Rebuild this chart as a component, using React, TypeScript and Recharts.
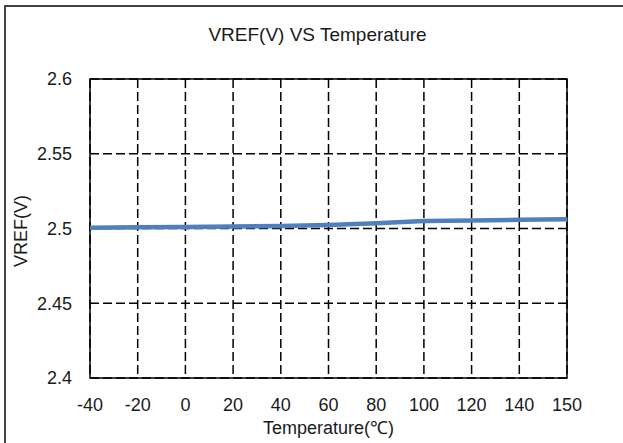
import React from 'react';
import { LineChart, Line, XAxis, YAxis, CartesianGrid, ReferenceArea } from 'recharts';

// temperature steps (category axis, evenly spaced like the original sheet chart)
const temps = [-40, -20, 0, 20, 40, 60, 80, 100, 120, 140, 150];
// VREF readings in volts
const vref = [2.5005, 2.5008, 2.501, 2.5013, 2.5017, 2.5023, 2.5035, 2.505, 2.5053, 2.5058, 2.5062];
const yTicks = [2.4, 2.45, 2.5, 2.55, 2.6];

const data = temps.map((t, i) => ({ t, v: vref[i] }));

const font = '"Liberation Sans", Arial, sans-serif';
const tickStyle = { fill: '#1a1a1a', fontSize: 18, fontFamily: font };

export default function App() {
  return (
    <div
      style={{
        position: 'fixed',
        left: 0,
        top: 0,
        width: 623,
        height: 443,
        overflow: 'hidden',
        background: '#fff',
        fontFamily: font,
      }}
    >
      <div
        style={{
          position: 'absolute',
          left: 4,
          top: 5,
          width: 640,
          height: 460,
          border: '2px solid #444',
        }}
      />
      <div
        style={{
          position: 'absolute',
          left: 0,
          width: 623,
          top: 24,
          textAlign: 'center',
          fontSize: 19,
          color: '#1a1a1a',
          paddingLeft: 6,
        }}
      >
        VREF(V) VS Temperature
      </div>
      <LineChart
        width={623}
        height={443}
        data={data}
        margin={{ top: 79, right: 56, bottom: 35, left: 0 }}
        style={{ position: 'absolute', left: 0, top: 0 }}
      >
        <CartesianGrid stroke="#000" strokeWidth={1.5} strokeDasharray="9 4" />
        <XAxis
          dataKey="t"
          type="category"
          height={30}
          axisLine={false}
          tickLine={false}
          tickMargin={14}
          tick={tickStyle}
          interval={0}
        />
        <YAxis
          type="number"
          domain={[2.4, 2.6]}
          ticks={yTicks}
          width={90}
          axisLine={false}
          tickLine={false}
          tickMargin={12}
          tick={tickStyle}
        />
        <Line
          type="linear"
          dataKey="v"
          stroke="#4f7fbd"
          strokeWidth={4.5}
          dot={false}
          isAnimationActive={false}
        />
        <ReferenceArea
          x1={-40}
          x2={150}
          y1={2.4}
          y2={2.6}
          fill="none"
          fillOpacity={0}
          stroke="#000"
          strokeWidth={1.5}
          ifOverflow="visible"
        />
      </LineChart>
      <div
        style={{
          position: 'absolute',
          left: 90,
          width: 477,
          top: 417,
          textAlign: 'center',
          fontSize: 18,
          color: '#1a1a1a',
          lineHeight: '22px',
        }}
      >
        Temperature(℃)
      </div>
      <div
        style={{
          position: 'absolute',
          left: 21,
          top: 231,
          transform: 'translate(-50%, -50%) rotate(-90deg)',
          fontSize: 18,
          color: '#1a1a1a',
          whiteSpace: 'nowrap',
          lineHeight: '22px',
        }}
      >
        VREF(V)
      </div>
    </div>
  );
}
